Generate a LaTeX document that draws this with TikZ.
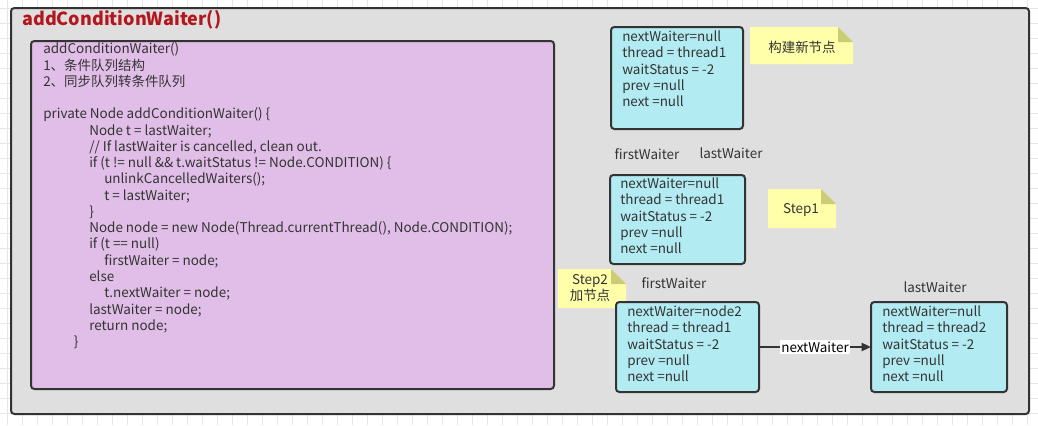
\documentclass[tikz,border=0pt]{standalone}
\usepackage{fontspec}
\setmainfont{Noto Sans CJK SC}
\usetikzlibrary{arrows.meta}
\definecolor{gridc}{HTML}{E6E6E6}
\definecolor{framefill}{HTML}{DFDFDF}
\definecolor{edge}{HTML}{333333}
\definecolor{titlered}{HTML}{B3161C}
\definecolor{purplefill}{HTML}{E1BEE7}
\definecolor{cyanfill}{HTML}{B2EBF2}
\definecolor{notefill}{HTML}{FFFFAA}
\definecolor{notefold}{HTML}{CCCC77}
\definecolor{textc}{HTML}{333333}
\tikzset{
  box/.style={draw=edge, line width=1.5pt, rounded corners=2.5pt},
  nodebox/.style={box, fill=cyanfill},
  txt/.style={inner sep=0pt, text=textc, font=\fontsize{10.1}{12.2}\selectfont},
  fieldtxt/.style={txt, anchor=north west, align=left},
  lbl/.style={txt, anchor=center},
}
\newcommand{\mynote}[5]{% name, x1, y1, x2, y2
  \fill[notefill] (#2,#3) -- (#4-15,#3) -- (#4,#3+15) -- (#4,#5) -- (#2,#5) -- cycle;
  \fill[notefold] (#4-15,#3) -- (#4,#3+15) -- (#4-15,#3+15) -- cycle;
  \coordinate (#1) at ({(#2+#4)/2},{(#3+#5)/2});
}
\begin{document}
\begin{tikzpicture}[x=0.75pt,y=-0.75pt]
\useasboundingbox (0,0) rectangle (1038,425);
\fill[white] (0,0) rectangle (1038,425);
\foreach \gx in {7,22,...,1037} \draw[gridc, line width=0.75pt] (\gx,0) -- (\gx,425);
\foreach \gy in {8,23,...,424} \draw[gridc, line width=0.75pt] (0,\gy) -- (1038,\gy);

% outer frame
\draw[box, fill=framefill] (11,8) rectangle (1029,414);
\node[anchor=west, inner sep=0pt, text=titlered, font=\fontsize{13.5}{16}\selectfont\bfseries] (title) at (22,20) {addConditionWaiter()};

% code box
\draw[box, fill=purplefill] (31,41) rectangle (554,389);
\node[txt, anchor=north west, align=left] (code) at (43,42.5) {%
addConditionWaiter()\\
1、条件队列结构\\
2、同步队列转条件队列\\
\strut\\
private Node addConditionWaiter() \{\\
\hspace*{34.5pt}Node t = lastWaiter;\\
\hspace*{34.5pt}// If lastWaiter is cancelled, clean out.\\
\hspace*{34.5pt}if (t != null \&\& t.waitStatus != Node.CONDITION) \{\\
\hspace*{45.75pt}unlinkCancelledWaiters();\\
\hspace*{45.75pt}t = lastWaiter;\\
\hspace*{34.5pt}\}\\
\hspace*{34.5pt}Node node = new Node(Thread.currentThread(), Node.CONDITION);\\
\hspace*{34.5pt}if (t == null)\\
\hspace*{45.75pt}firstWaiter = node;\\
\hspace*{34.5pt}else\\
\hspace*{45.75pt}t.nextWaiter = node;\\
\hspace*{34.5pt}lastWaiter = node;\\
\hspace*{34.5pt}return node;\\
\hspace*{23pt}\}};

% Box A
\draw[nodebox] (611,27) rectangle (743,129);
\node[fieldtxt] (boxA) at (622,30.5) {nextWaiter=null\\thread = thread1\\waitStatus = -2\\prev =null\\next =null};
\mynote{noteA}{750}{27}{853}{64}
\node[lbl] (noteAtxt) at (802,47) {构建新节点};

% Labels step1
\node[lbl] (fw1) at (647,154) {firstWaiter};
\node[lbl] (lw1) at (731,153) {lastWaiter};

% Box B
\draw[nodebox] (610,175) rectangle (745,264);
\node[fieldtxt] (boxB) at (620,177.5) {nextWaiter=null\\thread = thread1\\waitStatus = -2\\prev =null\\next =null};
\mynote{noteB}{768}{189}{836}{228}
\node[lbl] (noteBtxt) at (801,210) {Step1};

% Step2
\mynote{noteC}{558}{269}{626}{308}
\node[lbl, align=center] (noteCtxt) at (590,288) {Step2\\加节点};
\node[lbl] (fw2) at (674,283) {firstWaiter};
\node[lbl] (lw2) at (935,287) {lastWaiter};

% Box C
\draw[nodebox] (616,302) rectangle (759,392);
\coordinate (Cright) at (759,347);
\node[fieldtxt] (boxC) at (627,305.5) {nextWaiter=node2\\thread = thread1\\waitStatus = -2\\prev =null\\next =null};

% Box D
\draw[nodebox] (871,302) rectangle (1007,392);
\coordinate (Dleft) at (871,347);
\node[fieldtxt] (boxD) at (882,305.5) {nextWaiter=null\\thread = thread2\\waitStatus = -2\\prev =null\\next =null};

% arrow
\draw[edge, line width=1.5pt, -{Triangle[length=7pt,width=6pt]}] (Cright) -- node[fill=white, inner sep=1pt, text=black, font=\fontsize{10.1}{12}\selectfont] (arrlbl) {nextWaiter} (Dleft);
\end{tikzpicture}
\end{document}
